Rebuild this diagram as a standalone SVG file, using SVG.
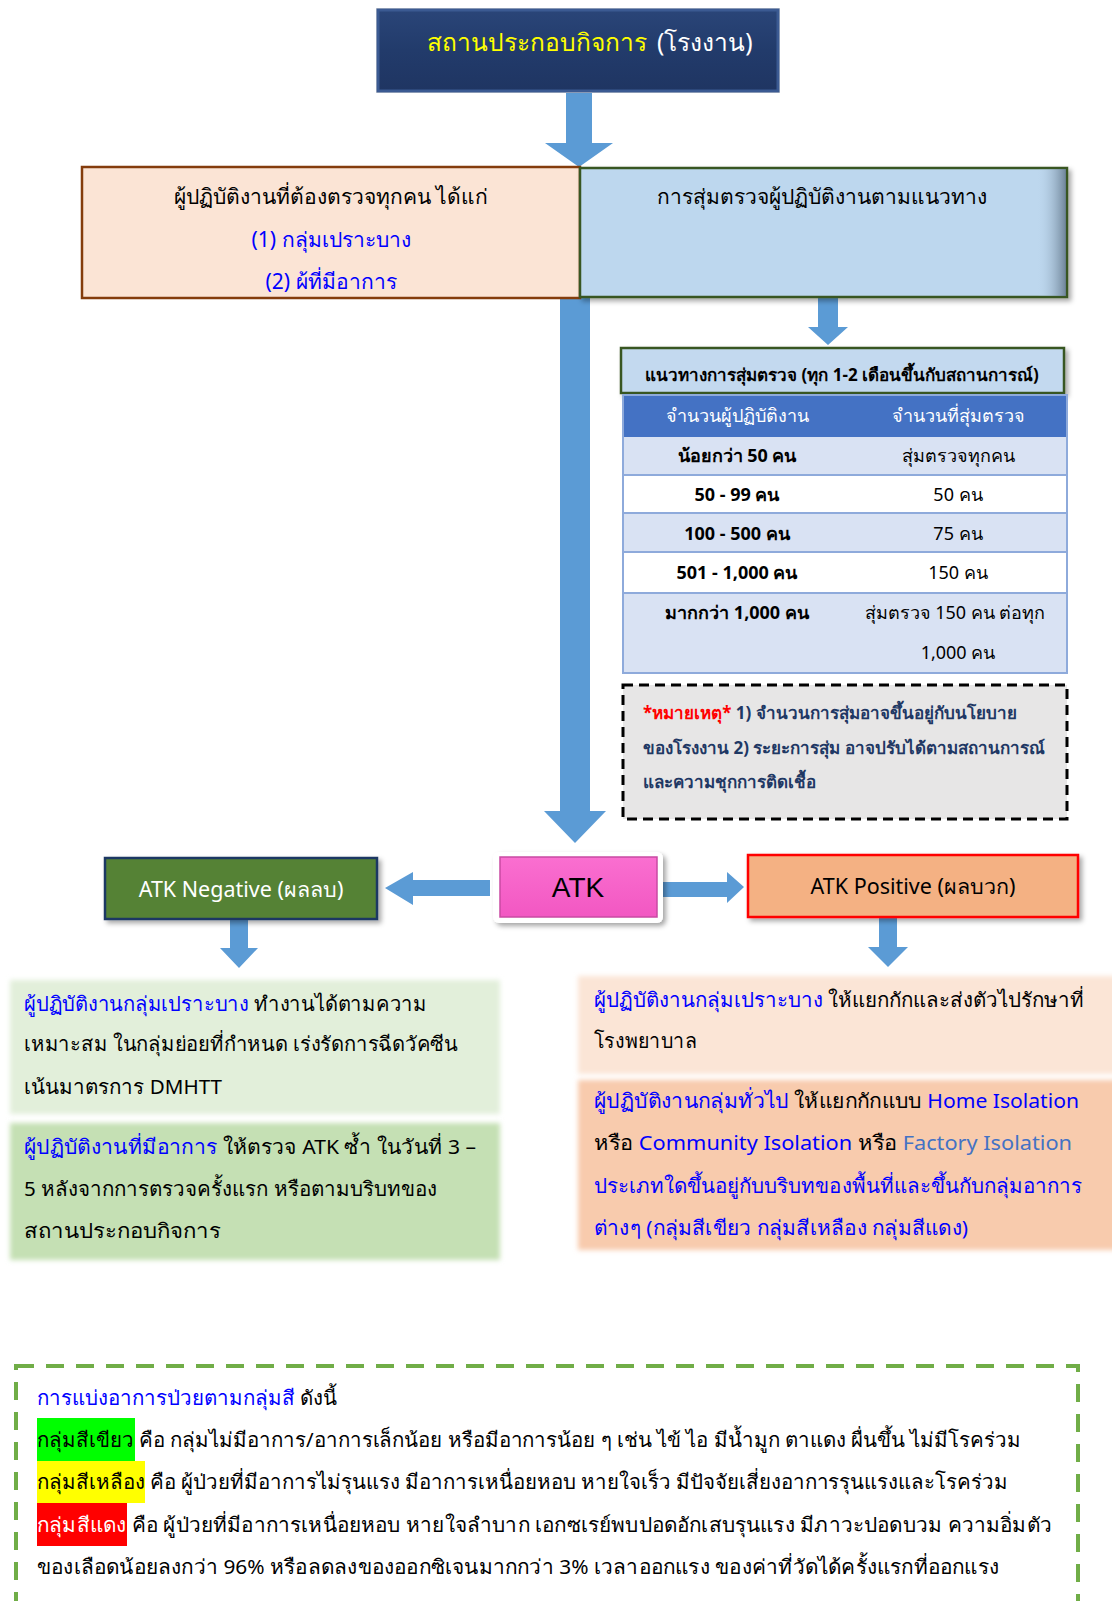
<svg xmlns="http://www.w3.org/2000/svg" width="1112" height="1601" viewBox="0 0 1112 1601">
<defs>
<style>
text{font-family:"Noto Sans","DejaVu Sans",sans-serif;fill:#000}
.c{text-anchor:middle}
.b{fill:#0000ff}
.lb{fill:#4472c4}
.w{fill:#fff}
.y{fill:#ffff00}
.bd{font-weight:bold}
.t20{font-size:20.5px}
.t18{font-size:18px}
.arrow{fill:#5b9bd5}
.row{stroke:#8eaadb;stroke-width:2}
</style>
<filter id="sh" x="-5%" y="-10%" width="115%" height="130%">
<feDropShadow dx="3" dy="3" stdDeviation="2.5" flood-color="#000" flood-opacity="0.35"/>
</filter>
<filter id="soft" x="-3%" y="-5%" width="106%" height="110%">
<feGaussianBlur stdDeviation="2.5"/>
</filter>
<linearGradient id="navy" x1="0" y1="0" x2="0" y2="1">
<stop offset="0" stop-color="#2a4578"/>
<stop offset="0.5" stop-color="#223b6b"/>
<stop offset="1" stop-color="#1f3562"/>
</linearGradient>
<linearGradient id="pink" x1="0" y1="0" x2="0" y2="1">
<stop offset="0" stop-color="#fa6fd0"/>
<stop offset="1" stop-color="#f257c2"/>
</linearGradient>
<linearGradient id="edge" x1="0" y1="0" x2="1" y2="0">
<stop offset="0.94" stop-color="#bdd7ee" stop-opacity="0"/>
<stop offset="1" stop-color="#5a6f82" stop-opacity="0.8"/>
</linearGradient>
</defs>

<g id="connectors">
<polygon class="arrow" points="566,93 592,93 592,143 613,143 579,167 545,143 566,143"/>
<polygon class="arrow" points="560,297 590,297 590,811 606,811 575,843 544,811 560,811"/>
<polygon class="arrow" points="818,298 838,298 838,327 848,327 828,345 808,327 818,327"/>
<polygon class="arrow" points="490,880 413,880 413,872 385,888 413,905 413,896 490,896"/>
<polygon class="arrow" points="663,882 727,882 727,872 744,887 727,903 727,897 663,897"/>
<polygon class="arrow" points="230,919 248,919 248,948 258,948 239,968 220,948 230,948"/>
<polygon class="arrow" points="879,917 897,917 897,947 908,947 888,967 868,947 879,947"/>
</g>

<g id="top">
<rect x="376" y="8" width="404" height="85" fill="#d9d9d9"/>
<rect x="378" y="10" width="400" height="81" fill="url(#navy)" stroke="#3b5a92" stroke-width="3"/>
<text x="427" y="51" class="y" style="font-size:24.5px">สถานประกอบกิจการ</text>
<text x="657" y="51" class="w" style="font-size:24.5px">(โรงงาน)</text>
</g>

<g id="all-check">
<rect x="82" y="167" width="498" height="131" fill="#fbe4d5" stroke="#843c0c" stroke-width="2.5"/>
<text x="331" y="204" class="c" style="font-size:21px">ผู้ปฏิบัติงานที่ต้องตรวจทุกคน ได้แก่</text>
<text x="331" y="247" class="c b" style="font-size:21px">(1) กลุ่มเปราะบาง</text>
<text x="331" y="289" class="c b" style="font-size:21px">(2) ผ้ที่มีอาการ</text>
</g>

<g id="random-check">
<rect x="580" y="168" width="487" height="129" fill="#bdd7ee" stroke="#385723" stroke-width="2.5" filter="url(#sh)"/>
<rect x="581" y="169" width="485" height="127" fill="url(#edge)"/>
<text x="822" y="204" class="c" style="font-size:21px">การสุ่มตรวจผู้ปฏิบัติงานตามแนวทาง</text>
</g>

<g id="guideline-title">
<rect x="621" y="348" width="443" height="45" fill="#c3d9ef" stroke="#385723" stroke-width="2.5" filter="url(#sh)"/>
<text x="842" y="381" class="c bd" style="font-size:17px">แนวทางการสุ่มตรวจ (ทุก 1-2 เดือนขึ้นกับสถานการณ์)</text>
</g>

<g id="table">
<rect x="623" y="395" width="444" height="42" fill="#4472c4"/>
<rect x="623" y="437" width="444" height="38" fill="#d9e2f3"/>
<rect x="623" y="475" width="444" height="38" fill="#fff"/>
<rect x="623" y="513" width="444" height="39" fill="#d9e2f3"/>
<rect x="623" y="552" width="444" height="41" fill="#fff"/>
<rect x="623" y="593" width="444" height="80" fill="#d9e2f3"/>
<line class="row" x1="623" y1="475" x2="1067" y2="475"/>
<line class="row" x1="623" y1="513" x2="1067" y2="513"/>
<line class="row" x1="623" y1="552" x2="1067" y2="552"/>
<line class="row" x1="623" y1="593" x2="1067" y2="593"/>
<rect x="623" y="395" width="444" height="278" fill="none" stroke="#8eaadb" stroke-width="2"/>
<text x="737" y="422" class="c t18 w">จำนวนผู้ปฏิบัติงาน</text>
<text x="958" y="422" class="c t18 w">จำนวนที่สุ่มตรวจ</text>
<text x="737" y="462" class="c t18 bd">น้อยกว่า 50 คน</text>
<text x="958" y="462" class="c t18">สุ่มตรวจทุกคน</text>
<text x="737" y="501" class="c t18 bd">50 - 99 คน</text>
<text x="958" y="501" class="c t18">50 คน</text>
<text x="737" y="540" class="c t18 bd">100 - 500 คน</text>
<text x="958" y="540" class="c t18">75 คน</text>
<text x="737" y="579" class="c t18 bd">501 - 1,000 คน</text>
<text x="958" y="579" class="c t18">150 คน</text>
<text x="737" y="619" class="c t18 bd">มากกว่า 1,000 คน</text>
<text x="955" y="619" class="c t18">สุ่มตรวจ 150 คน ต่อทุก</text>
<text x="958" y="659" class="c t18">1,000 คน</text>
</g>

<g id="note">
<rect x="623" y="685" width="444" height="134" fill="#e7e6e6" stroke="#000" stroke-width="3" stroke-dasharray="10,6"/>
<text x="643" y="719" class="bd" style="font-size:17px;fill:#1f3864"><tspan fill="#ff0000">*หมายเหตุ*</tspan> 1) จำนวนการสุ่มอาจขึ้นอยู่กับนโยบาย</text>
<text x="643" y="754" class="bd" style="font-size:17px;fill:#1f3864">ของโรงงาน 2) ระยะการสุ่ม อาจปรับได้ตามสถานการณ์</text>
<text x="643" y="788" class="bd" style="font-size:17px;fill:#1f3864">และความชุกการติดเชื้อ</text>
</g>

<g id="atk">
<rect x="493" y="852" width="170" height="71" rx="6" fill="#fff" filter="url(#sh)"/>
<rect x="500" y="857" width="157" height="60" fill="url(#pink)" stroke="#c94aa3" stroke-width="1.5"/>
<text x="578" y="897" class="c" style="font-size:28px;font-family:'Liberation Sans',sans-serif">ATK</text>
</g>

<g id="atk-negative">
<rect x="105" y="858" width="272" height="61" fill="#548235" stroke="#1f3864" stroke-width="2.5" filter="url(#sh)"/>
<text x="241" y="897" class="c w" style="font-size:21.5px">ATK Negative (ผลลบ)</text>
</g>

<g id="atk-positive">
<rect x="748" y="855" width="330" height="62" fill="#f4b183" stroke="#ff0000" stroke-width="2.5" filter="url(#sh)"/>
<text x="913" y="894" class="c" style="font-size:21.5px">ATK Positive (ผลบวก)</text>
</g>

<g id="neg-vulnerable">
<rect x="10" y="980" width="490" height="134" fill="#e2efda" filter="url(#soft)"/>
<text x="24" y="1011" class="t20" textLength="403" lengthAdjust="spacingAndGlyphs"><tspan class="b">ผู้ปฏิบัติงานกลุ่มเปราะบาง</tspan> ทำงานได้ตามความ</text>
<text x="24" y="1051" class="t20" textLength="434" lengthAdjust="spacingAndGlyphs">เหมาะสม ในกลุ่มย่อยที่กำหนด เร่งรัดการฉีดวัคซีน</text>
<text x="24" y="1094" class="t20" textLength="198" lengthAdjust="spacingAndGlyphs">เน้นมาตรการ DMHTT</text>
</g>

<g id="neg-symptom">
<rect x="10" y="1123" width="490" height="137" fill="#c5e0b4" filter="url(#soft)"/>
<text x="24" y="1154" class="t20" textLength="452" lengthAdjust="spacingAndGlyphs"><tspan class="b">ผู้ปฏิบัติงานที่มีอาการ</tspan> ให้ตรวจ ATK ซ้ำ ในวันที่ 3 –</text>
<text x="24" y="1196" class="t20" textLength="413" lengthAdjust="spacingAndGlyphs">5 หลังจากการตรวจครั้งแรก หรือตามบริบทของ</text>
<text x="24" y="1238" class="t20" textLength="197" lengthAdjust="spacingAndGlyphs">สถานประกอบกิจการ</text>
</g>

<g id="pos-vulnerable">
<rect x="578" y="976" width="540" height="98" fill="#fbe5d6" filter="url(#soft)"/>
<text x="594" y="1007" class="t20" textLength="490" lengthAdjust="spacingAndGlyphs"><tspan class="b">ผู้ปฏิบัติงานกลุ่มเปราะบาง</tspan> ให้แยกกักและส่งตัวไปรักษาที่</text>
<text x="594" y="1048" class="t20" textLength="103" lengthAdjust="spacingAndGlyphs">โรงพยาบาล</text>
</g>

<g id="pos-general">
<rect x="578" y="1080" width="540" height="170" fill="#f8cbad" filter="url(#soft)"/>
<text x="594" y="1108" class="t20" textLength="485" lengthAdjust="spacingAndGlyphs"><tspan class="b">ผู้ปฏิบัติงานกลุ่มทั่วไป</tspan> ให้แยกกักแบบ <tspan class="b">Home Isolation</tspan></text>
<text x="594" y="1150" class="t20" textLength="478" lengthAdjust="spacingAndGlyphs">หรือ <tspan class="b">Community Isolation</tspan> หรือ <tspan class="lb">Factory Isolation</tspan></text>
<text x="594" y="1193" class="t20 b" textLength="488" lengthAdjust="spacingAndGlyphs">ประเภทใดขึ้นอยู่กับบริบทของพื้นที่และขึ้นกับกลุ่มอาการ</text>
<text x="594" y="1235" class="t20 b" textLength="374" lengthAdjust="spacingAndGlyphs">ต่างๆ (กลุ่มสีเขียว กลุ่มสีเหลือง กลุ่มสีแดง)</text>
</g>

<g id="color-groups">
<rect x="16" y="1366" width="1062" height="260" fill="none" stroke="#70ad47" stroke-width="4" stroke-dasharray="18,12"/>
<rect x="37" y="1418" width="98" height="43" fill="#00ff00"/>
<rect x="37" y="1461" width="108" height="42" fill="#ffff00"/>
<rect x="37" y="1503" width="90" height="43" fill="#ff0000"/>
<text x="37" y="1405" class="t20" textLength="300" lengthAdjust="spacingAndGlyphs"><tspan class="b">การแบ่งอาการป่วยตามกลุ่มสี</tspan> ดังนี้</text>
<text x="37" y="1447" class="t20" textLength="984" lengthAdjust="spacingAndGlyphs">กลุ่มสีเขียว คือ กลุ่มไม่มีอาการ/อาการเล็กน้อย หรือมีอาการน้อย ๆ เช่น ไข้ ไอ มีน้ำมูก ตาแดง ผื่นขึ้น ไม่มีโรคร่วม</text>
<text x="37" y="1489" class="t20" textLength="971" lengthAdjust="spacingAndGlyphs">กลุ่มสีเหลือง คือ ผู้ป่วยที่มีอาการไม่รุนแรง มีอาการเหนื่อยหอบ หายใจเร็ว มีปัจจัยเสี่ยงอาการรุนแรงและโรคร่วม</text>
<text x="37" y="1532" class="t20" textLength="1015" lengthAdjust="spacingAndGlyphs"><tspan class="w">กลุ่มสีแดง</tspan> คือ ผู้ป่วยที่มีอาการเหนื่อยหอบ หายใจลำบาก เอกซเรย์พบปอดอักเสบรุนแรง มีภาวะปอดบวม ความอิ่มตัว</text>
<text x="37" y="1574" class="t20" textLength="962" lengthAdjust="spacingAndGlyphs">ของเลือดน้อยลงกว่า 96% หรือลดลงของออกซิเจนมากกว่า 3% เวลาออกแรง ของค่าที่วัดได้ครั้งแรกที่ออกแรง</text>
</g>
</svg>
